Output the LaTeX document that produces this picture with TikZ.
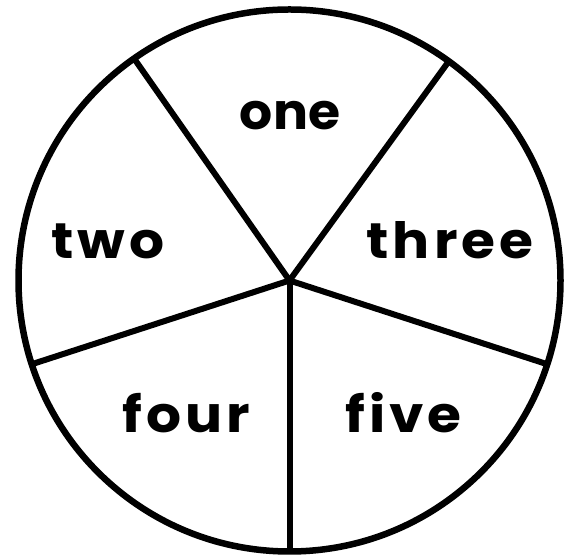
\documentclass[tikz,border=0pt]{standalone}
\usepackage{fontspec}
\setmainfont{Poppins}
\newfontfamily\widelbl{Poppins}[FakeStretch=1.1,LetterSpace=8]
\newfontfamily\narrowlbl{Poppins}[FakeStretch=1.04]
\begin{document}
\begin{tikzpicture}[x=1pt,y=1pt,
  rim/.style={circle,draw,line width=6.5pt,minimum size=542pt,inner sep=0pt,outer sep=0pt},
  spoke/.style={line width=6pt},
  lbl/.style={anchor=base,font=\widelbl\bfseries\fontsize{50}{50}\selectfont,inner sep=0pt},
  lbln/.style={lbl,font=\narrowlbl\bfseries\fontsize{50}{50}\selectfont}]
\useasboundingbox (0,0) rectangle (573,559);
\node[rim] (c) at (289.5,278.5) {};
\draw[spoke] (c.center) -- (c.54.5);
\draw[spoke] (c.center) -- (c.125.5);
\draw[spoke] (c.center) -- (c.198);
\draw[spoke] (c.center) -- (c.270);
\draw[spoke] (c.center) -- (c.342);
\node[lbln] (one) at (290,429) {one};
\node[lbl] (two) at (108,300) {two};
\node[lbl] (three) at (450,300) {three};
\node[lbl] (four) at (186,126) {four};
\node[lbl] (five) at (403.5,126) {five};
\end{tikzpicture}
\end{document}
